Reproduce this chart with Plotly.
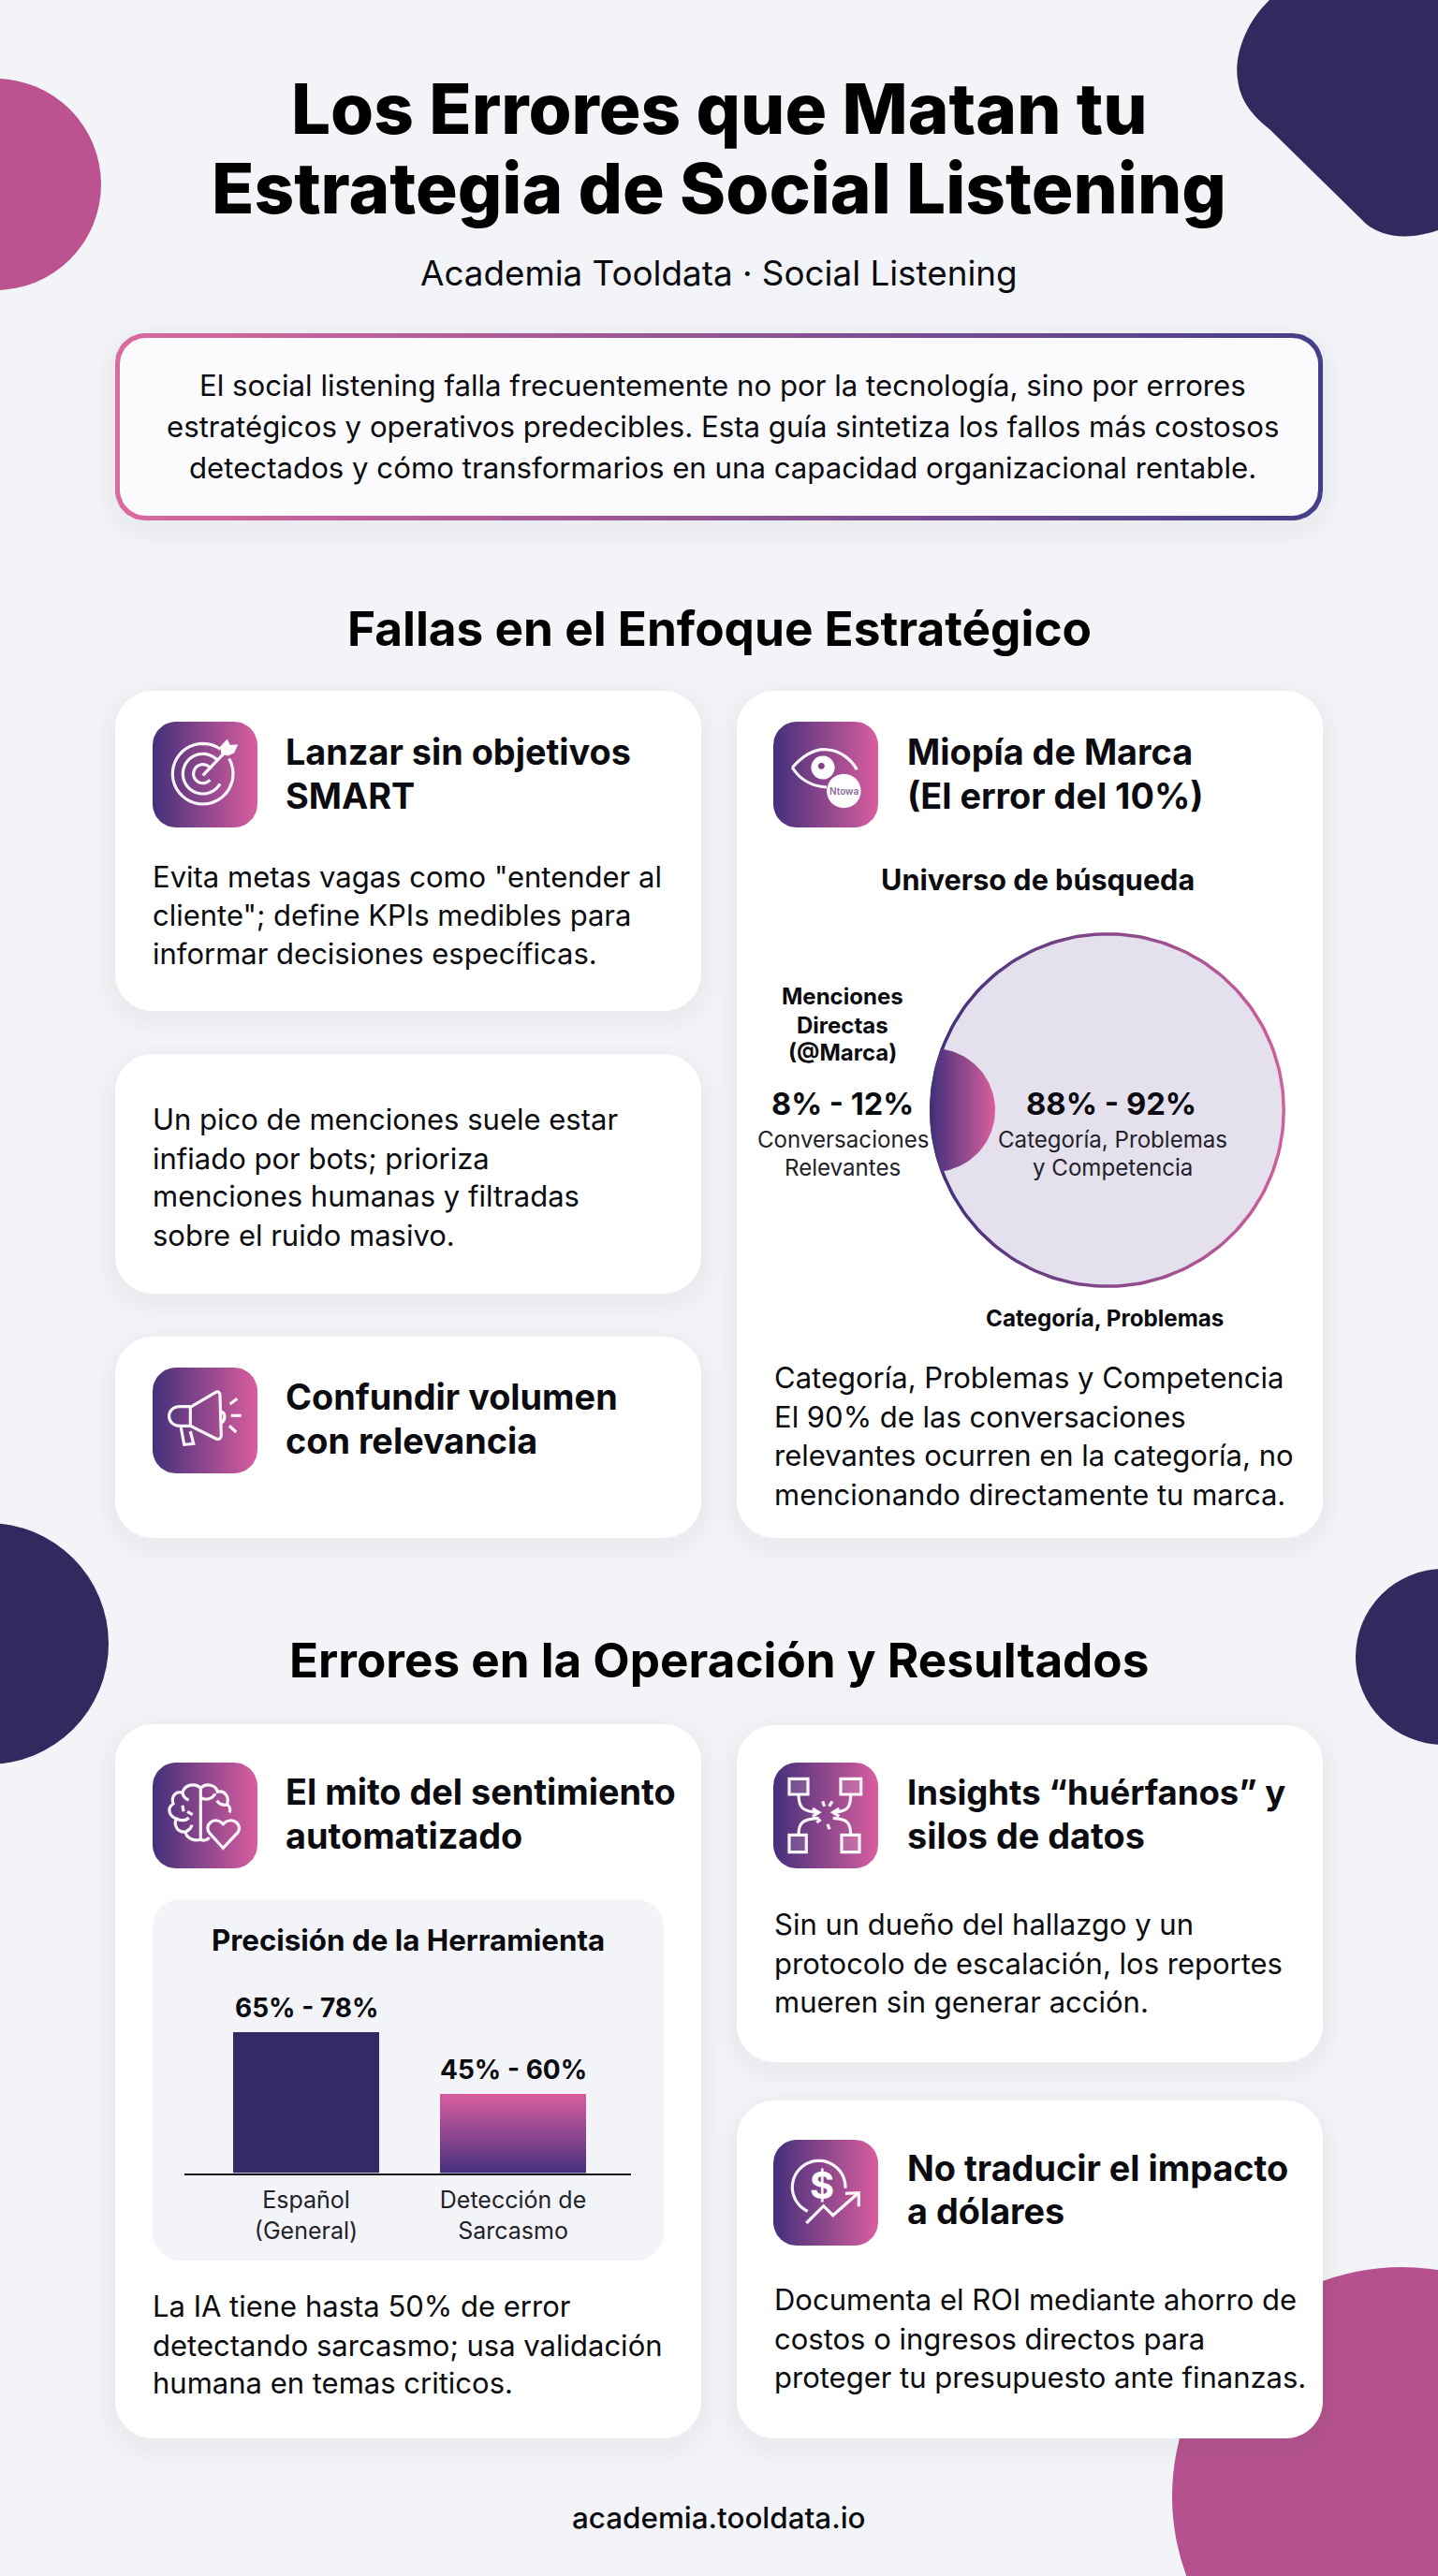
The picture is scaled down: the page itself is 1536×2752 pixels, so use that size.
"""Los Errores que Matan tu Estrategia de Social Listening: infographic page in Plotly."""
import re

import numpy as np
import plotly.graph_objects as go

PAGE_W, PAGE_H = 1536, 2752

BG = "#F3F4F8"
INK = "#0B0B10"
NAVY = "#33295F"
BAR_NAVY = "#332A66"
PINK = "#BC5290"
GRAD_L = "#43307A"
GRAD_R = "#D95E9F"
FONT = "Inter"

# bar chart values
BAR_CATEGORIES = ["Español<br>(General)", "Detección de<br>Sarcasmo"]
BAR_VALUES = [78, 60]
BAR_LABELS = ["65% - 78%", "45% - 60%"]
BAR_AXIS_MIN = 37
BAR_AXIS_MAX = 85

TITLE_LINES = ["Los Errores que Matan tu", "Estrategia de Social Listening"]
SUBTITLE = "Academia Tooldata · Social Listening"
INTRO_LINES = [
    "El social listening falla frecuentemente no por la tecnología, sino por errores",
    "estratégicos y operativos predecibles. Esta guía sintetiza los fallos más costosos",
    "detectados y cómo transformarios en una capacidad organizacional rentable.",
]
SECTION_1 = "Fallas en el Enfoque Estratégico"
SECTION_2 = "Errores en la Operación y Resultados"
FOOTER = "academia.tooldata.io"

shapes, annotations, grad_traces = [], [], []


def txt(x, baseline, text, size, weight=400, anchor="left", color=INK):
    # annotations centre on their box, so move up from the baseline
    annotations.append(dict(
        x=x, y=baseline - 0.364 * size, xref="x", yref="y", text=text, showarrow=False,
        xanchor=anchor, yanchor="middle", borderpad=0,
        font=dict(family=FONT, size=size, weight=weight, color=color),
    ))


def lines(x, baselines, rows, size, weight=400, anchor="left", color=INK):
    for base, row in zip(baselines, rows):
        txt(x, base, row, size, weight, anchor, color)


def rrect_path(x0, y0, x1, y1, r):
    k = r * 0.4477
    return (f"M{x0 + r},{y0} L{x1 - r},{y0} C{x1 - k},{y0} {x1},{y0 + k} {x1},{y0 + r} "
            f"L{x1},{y1 - r} C{x1},{y1 - k} {x1 - k},{y1} {x1 - r},{y1} "
            f"L{x0 + r},{y1} C{x0 + k},{y1} {x0},{y1 - k} {x0},{y1 - r} "
            f"L{x0},{y0 + r} C{x0},{y0 + k} {x0 + k},{y0} {x0 + r},{y0} Z")


def rrect_points(x0, y0, x1, y1, r):
    t = np.linspace(0, np.pi / 2, 14)
    xs = np.concatenate([x1 - r + r * np.sin(t), x1 - r + r * np.cos(t),
                         x0 + r - r * np.sin(t), x0 + r - r * np.cos(t)])
    ys = np.concatenate([y0 + r - r * np.cos(t), y1 - r + r * np.sin(t),
                         y1 - r + r * np.cos(t), y0 + r - r * np.sin(t)])
    return np.append(xs, xs[0]), np.append(ys, ys[0])


def shadow(x0, y0, x1, y1, r, dy=8, steps=8, alpha=0.009):
    for i in range(steps, 0, -1):
        g = i * 2.6
        shapes.append(dict(type="path", path=rrect_path(x0 - g, y0 + dy - g, x1 + g, y1 + dy + g, r + g),
                           fillcolor=f"rgba(70,75,95,{alpha})", line_width=0, layer="below"))


def card(x0, y0, x1, y1, r=40):
    shadow(x0, y0, x1, y1, r)
    shapes.append(dict(type="path", path=rrect_path(x0, y0, x1, y1, r),
                       fillcolor="#FFFFFF", line_width=0, layer="below"))


def grad_fill(xs, ys, left=GRAD_L, right=GRAD_R, kind="horizontal"):
    grad_traces.append(go.Scatter(
        x=xs, y=ys, mode="lines", fill="toself", line=dict(width=0), hoverinfo="skip",
        showlegend=False, fillgradient=dict(type=kind, colorscale=[[0, left], [1, right]]),
    ))


def solid_fill(xs, ys, color):
    grad_traces.append(go.Scatter(
        x=xs, y=ys, mode="lines", fill="toself", fillcolor=color, line=dict(width=0),
        hoverinfo="skip", showlegend=False,
    ))


def blob(cx, cy, r, color):
    shapes.append(dict(type="circle", x0=cx - r, x1=cx + r, y0=cy - r, y1=cy + r,
                       fillcolor=color, line_width=0, layer="below"))


def arc(cx, cy, r, a0, a1, n=40):
    a = np.radians(np.linspace(a0, a1, n))
    pts = [f"{cx + r * np.cos(v):.1f},{cy - r * np.sin(v):.1f}" for v in a]
    return "M" + " L".join(pts)


def icon(x0, y0, strokes, width=3.2):
    # strokes are drawn in the 3x crop space used when reading the icons
    xs, ys = rrect_points(x0, y0, x0 + 112, y0 + 113, 25)
    grad_fill(xs, ys)

    def conv(path):
        return re.sub(r"(-?\d+\.?\d*),(-?\d+\.?\d*)",
                      lambda m: f"{x0 - 8 + float(m[1]) / 3:.1f},{y0 - 6 + float(m[2]) / 3:.1f}", path)

    for s in strokes:
        fill = None
        if isinstance(s, tuple):
            s, fill = s
        shapes.append(dict(type="path", path=conv(s), line=dict(color="rgba(255,255,255,0.95)", width=width),
                           fillcolor=fill or "rgba(0,0,0,0)", layer="above"))


TARGET = [
    arc(185, 185, 97, 55, 390), arc(185, 185, 64, 40, 330), arc(185, 185, 30, 30, 320),
    "M185,190 L262,110",
    ("M245,100 L262,82 L270,98 L290,96 L282,115 L265,122 L248,118 Z", "rgba(255,255,255,0.95)"),
]
EYE = [
    "M85,165 C125,120 165,103 200,108 C240,112 275,140 292,172",
    "M85,165 C110,205 150,225 195,228",
    (arc(183, 165, 33, 0, 360), "#FFFFFF"),
    (arc(178, 160, 15, 0, 360), "#7D4285"),
    (arc(250, 240, 50, 0, 360), "#FFFFFF"),
]
MEGAPHONE = [
    "M145,145 L225,98 C235,92 240,98 240,108 L244,235 C244,246 236,250 226,245 L145,205 Z",
    "M145,143 L112,143 C65,143 65,205 112,205 L145,205",
    "M115,210 L125,265 L155,262 L145,222",
    "M245,160 C258,165 258,185 245,195",
    "M272,135 L295,118", "M275,172 L308,172", "M270,205 L292,225",
]
BRAIN = [
    "M178,95 L178,265",
    "M178,265 C150,272 130,255 130,240 C100,242 92,215 100,198 C78,190 68,165 90,150 "
    "C82,125 100,108 120,115 C125,88 162,82 178,100",
    "M178,100 C195,82 228,90 232,112 C255,105 272,130 262,152 C272,158 275,170 270,178",
    "M178,265 C188,270 200,266 206,258",
    "M250,292 L205,242 C188,215 225,188 250,215 C276,188 315,215 297,242 Z",
    "M178,130 C195,140 215,135 225,118", "M230,140 C240,155 255,155 265,152",
    "M120,155 L123,175", "M135,175 L152,185", "M100,198 C115,205 130,205 140,195",
    "M130,240 C140,235 148,228 150,218", "M120,115 C122,128 130,135 140,138",
]
NETWORK = [
    ("M75,70 L135,70 L135,120 L75,120 Z", "rgba(255,255,255,0.14)"),
    ("M240,70 L305,70 L305,120 L240,120 Z", "rgba(255,255,255,0.14)"),
    ("M75,250 L130,250 L130,305 L75,305 Z", "rgba(255,255,255,0.14)"),
    ("M243,250 L300,250 L300,305 L243,305 Z", "rgba(255,255,255,0.14)"),
    "M105,120 C105,165 120,175 170,178", "M150,165 L170,178 L150,190",
    "M272,120 C272,165 260,175 215,178", "M235,165 L215,178 L235,190",
    "M105,250 C105,210 120,198 170,196", "M272,250 C272,210 260,198 215,196",
    "M182,142 L188,158", "M213,142 L203,158", "M163,210 L176,200", "M198,215 L204,232",
]
DOLLAR = [
    arc(170, 170, 85, -2, 245),
    "M130,285 L185,230 L215,260 L295,190", "M255,190 L298,188 L298,232",
]

# background blobs
blob(-5, 197, 113, PINK)
blob(-13, 1756, 129, NAVY)
blob(1542, 1770, 94, NAVY)
blob(1497, 2667, 245, "#B65190")
shapes.append(dict(type="path", fillcolor=NAVY, line_width=0, layer="below",
                   path="M1356,0 C1330,25 1318,60 1322,85 C1325,110 1340,125 1356,138 L1459,239 "
                        "C1475,252 1500,258 1536,246 L1536,0 Z"))

# header
lines(768, [143, 228], TITLE_LINES, 74.5, 800, "center", "#000000")
txt(768, 305, SUBTITLE, 36.8, 400, "center")

shadow(123, 356, 1413, 556, 32)
xs, ys = rrect_points(123, 356, 1413, 556, 32)
grad_fill(xs, ys, "#DB6A9E", "#453E8A")
xs, ys = rrect_points(128, 361, 1408, 551, 28)
solid_fill(xs, ys, "#FBFBFD")
lines(772, [423, 467, 511], INTRO_LINES, 31.2, 400, "center")

txt(768, 690, SECTION_1, 51.3, 700, "center", "#000000")
txt(768, 1792, SECTION_2, 51.2, 700, "center", "#000000")
txt(768, 2701, FOOTER, 31.4, 500, "center")

# cards, first section
card(123, 738, 749, 1080)
icon(163, 771, TARGET)
lines(304, [817, 864], ["Lanzar sin objetivos", "SMART"], 37.8, 700)
lines(162, [948, 989, 1030], ['Evita metas vagas como "entender al', 'cliente"; define KPIs medibles para',
                              "informar decisiones específicas."], 31)

card(123, 1126, 749, 1382)
lines(162, [1207, 1249, 1289, 1331], ["Un pico de menciones suele estar", "infiado por bots; prioriza",
                                      "menciones humanas y filtradas", "sobre el ruido masivo."], 31)

card(123, 1428, 749, 1643)
icon(163, 1461, MEGAPHONE)
lines(304, [1506, 1553], ["Confundir volumen", "con relevancia"], 37.8, 700)

card(787, 738, 1413, 1643)
icon(826, 771, EYE)
txt(901, 849, "Ntowa", 10, 600, "center", "#8A6A9E")
lines(968, [817, 864], ["Miopía de Marca", "(El error del 10%)"], 37.8, 700)
txt(1108, 951, "Universo de búsqueda", 30.6, 700, "center")

# search universe circle
CX, CY, R = 1183, 1186, 190
t = np.linspace(0, 2 * np.pi, 200)
grad_fill(CX + R * np.cos(t), CY + R * np.sin(t), "#3D2F7A", "#D2609C")
solid_fill(CX + (R - 3.5) * np.cos(t), CY + (R - 3.5) * np.sin(t), "#E4E0ED")
# direct mentions: overlap of the big circle and a small one on its left edge
small_x, small_r = 997, 66
a_big = np.arccos((1005 - CX) / R)
ang_big = np.linspace(a_big, 2 * np.pi - a_big, 60)
a_small = np.arccos((1005 - small_x) / small_r)
ang_small = np.linspace(-a_small, a_small, 60)
grad_fill(np.concatenate([CX + R * np.cos(ang_big), small_x + small_r * np.cos(ang_small)]),
          np.concatenate([CY + R * np.sin(ang_big), CY + small_r * np.sin(ang_small)]),
          "#3D2F7A", "#DB5F9E")

lines(900, [1073, 1104, 1133], ["Menciones", "Directas", "(@Marca)"], 24, 700, "center")
txt(900, 1191, "8% - 12%", 32.5, 700, "center")
lines(900, [1226, 1256], ["Conversaciones", "Relevantes"], 24.1, 400, "center", "#222228")
txt(1187, 1191, "88% - 92%", 32.8, 700, "center")
lines(1188, [1226, 1256], ["Categoría, Problemas", "y Competencia"], 24.1, 400, "center", "#222228")
txt(1180, 1417, "Categoría, Problemas", 24.2, 700, "center")
lines(826, [1483, 1525, 1566, 1608],
      ["Categoría, Problemas y Competencia", "El 90% de las conversaciones",
       "relevantes ocurren en la categoría, no", "mencionando directamente tu marca."], 31)

# cards, second section
card(123, 1842, 749, 2605)
icon(163, 1883, BRAIN)
lines(304, [1928, 1975], ["El mito del sentimiento", "automatizado"], 37.8, 700)
shapes.append(dict(type="path", path=rrect_path(163, 2029, 709, 2415, 30), fillcolor="#F3F4F8",
                   line_width=0, layer="below"))
txt(436, 2084, "Precisión de la Herramienta", 31.3, 700, "center")
lines(162, [2475, 2517, 2557], ["La IA tiene hasta 50% de error", "detectando sarcasmo; usa validación",
                                "humana en temas criticos."], 31)

card(787, 1843, 1413, 2203)
icon(826, 1883, NETWORK)
txt(968, 1928, "Insights “huérfanos” y", 36.5, 700)
txt(968, 1975, "silos de datos", 37.8, 700)
lines(826, [2067, 2109, 2150], ["Sin un dueño del hallazgo y un", "protocolo de escalación, los reportes",
                                "mueren sin generar acción."], 31)

card(787, 2244, 1413, 2605)
icon(826, 2286, DOLLAR)
txt(878, 2349, "$", 40, 700, "center", "#FFFFFF")
lines(968, [2330, 2376], ["No traducir el impacto", "a dólares"], 37.8, 700)
lines(826, [2468, 2510, 2551], ["Documenta el ROI mediante ahorro de", "costos o ingresos directos para",
                                "proteger tu presupuesto ante finanzas."], 31)

# bar chart placed on its own axes inside the grey panel
BAR_LEFT, BAR_RIGHT, BAR_BASE = 197, 674, 2321.6
PX_PER_UNIT = 150.7 / (BAR_VALUES[0] - BAR_AXIS_MIN)
BAR_TOP = BAR_BASE - (BAR_AXIS_MAX - BAR_AXIS_MIN) * PX_PER_UNIT
BAR_POS = list(range(len(BAR_VALUES)))
BAR_WIDTH = 0.706

for pos, val, label in zip(BAR_POS, BAR_VALUES, BAR_LABELS):
    annotations.append(dict(x=pos, y=val, xref="x2", yref="y2", text=label, showarrow=False,
                            xanchor="center", yanchor="bottom", yshift=8, borderpad=0,
                            font=dict(family=FONT, size=28, weight=700, color=INK)))

fig = go.Figure()
# full page canvas in pixels
fig.add_trace(go.Scatter(x=[0, PAGE_W], y=[0, PAGE_H], mode="markers", marker=dict(opacity=0),
                         hoverinfo="skip", showlegend=False))
fig.add_traces(grad_traces)
fig.add_trace(go.Bar(
    x=BAR_POS, y=[v - BAR_AXIS_MIN for v in BAR_VALUES], base=BAR_AXIS_MIN, width=BAR_WIDTH,
    marker=dict(color=BAR_NAVY, line_width=0), showlegend=False, hoverinfo="skip",
    xaxis="x2", yaxis="y2",
))
# second bar carries a pink to navy gradient, laid over its own value
i = 1
fig.add_trace(go.Scatter(
    x=[BAR_POS[i] - BAR_WIDTH / 2, BAR_POS[i] + BAR_WIDTH / 2, BAR_POS[i] + BAR_WIDTH / 2,
       BAR_POS[i] - BAR_WIDTH / 2, BAR_POS[i] - BAR_WIDTH / 2],
    y=[BAR_AXIS_MIN, BAR_AXIS_MIN, BAR_VALUES[i], BAR_VALUES[i], BAR_AXIS_MIN],
    mode="lines", fill="toself", line=dict(width=0), hoverinfo="skip", showlegend=False,
    fillgradient=dict(type="vertical", colorscale=[[0, "#46307F"], [1, "#D95E9F"]]),
    xaxis="x2", yaxis="y2",
))

fig.update_layout(
    width=PAGE_W, height=PAGE_H, margin=dict(l=0, r=0, t=0, b=0, pad=0),
    paper_bgcolor=BG, plot_bgcolor="rgba(0,0,0,0)", showlegend=False,
    font=dict(family=FONT, color=INK), shapes=shapes, annotations=annotations,
    xaxis=dict(range=[0, PAGE_W], visible=False, fixedrange=True, domain=[0, 1]),
    yaxis=dict(range=[PAGE_H, 0], visible=False, fixedrange=True, domain=[0, 1]),
    xaxis2=dict(
        domain=[BAR_LEFT / PAGE_W, BAR_RIGHT / PAGE_W], anchor="y2", fixedrange=True,
        range=[(BAR_LEFT - 327) / 221, (BAR_RIGHT - 327) / 221],
        tickmode="array", tickvals=BAR_POS, ticktext=BAR_CATEGORIES, ticks="", ticklabelstandoff=6,
        tickfont=dict(family=FONT, size=25, color="#222228"), showgrid=False, zeroline=False,
        showline=True, linecolor="#15151C", linewidth=1.6,
    ),
    yaxis2=dict(
        domain=[1 - BAR_BASE / PAGE_H, 1 - BAR_TOP / PAGE_H], anchor="x2", fixedrange=True,
        range=[BAR_AXIS_MIN, BAR_AXIS_MAX], visible=False,
    ),
)

fig.write_html("out.html", config=dict(displayModeBar=False),
               post_script="document.body.style.margin='0';document.body.style.background='%s';" % BG)
